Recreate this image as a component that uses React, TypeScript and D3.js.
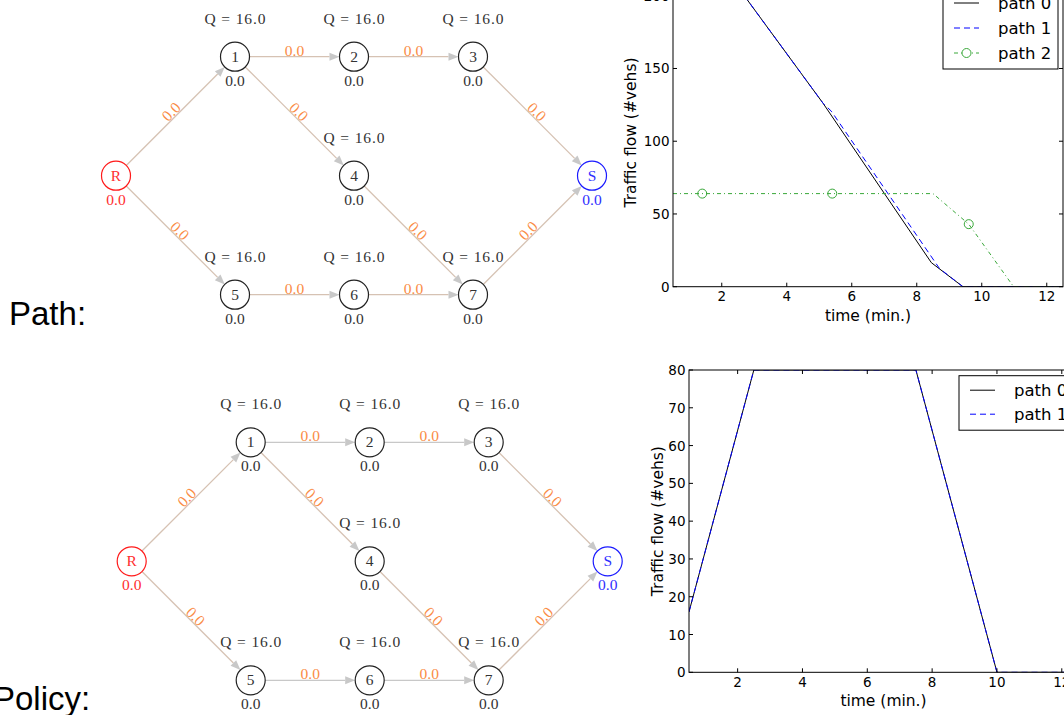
import * as d3 from 'd3';

// ---- network data ----
const nodeNames = ['R', '1', '2', '3', '4', '5', '6', '7', 'S'];
const nodeCol = [0, 1, 2, 3, 2, 1, 2, 3, 4];
const nodeRow = [1, 0, 0, 0, 1, 2, 2, 2, 1];
const nodeFlow = [0, 0, 0, 0, 0, 0, 0, 0, 0];
const nodeCapacity = [null, 16, 16, 16, 16, 16, 16, 16, null];
const edgeFrom = ['R', 'R', '1', '2', '1', '3', '4', '5', '6', '7'];
const edgeTo = ['1', '5', '2', '3', '4', 'S', '7', '6', '7', 'S'];
const edgeFlow = [0, 0, 0, 0, 0, 0, 0, 0, 0, 0];

// ---- path chart data ----
const pathTime0 = [0.5, 2.3, 5.12, 8.45, 9.42, 12.5];
const pathFlow0 = [212, 212, 126, 16.5, 0, 0];
const pathTime1 = [0.5, 2.3, 5.12, 5.37, 8.7, 9.42, 12.5];
const pathFlow1 = [212, 212, 126, 120.7, 12.5, 0, 0];
const pathTime2 = [0.5, 8.5, 9.6, 10.98, 12.5];
const pathFlow2 = [64, 64, 43, 0, 0];
const pathMarkTime2 = [1.4, 5.4, 9.6];
const pathMarkFlow2 = [64, 64, 43];
const pathYTicks = [0, 50, 100, 150, 200];

// ---- policy chart data ----
const policyTime0 = [0.5, 2.5, 7.5, 10, 12.5];
const policyFlow0 = [16, 80, 80, 0, 0];
const policyTime1 = [0.5, 2.5, 7.5, 10, 12.5];
const policyFlow1 = [16, 80, 80, 0, 0];
const policyYTicks = [0, 10, 20, 30, 40, 50, 60, 70, 80];

const xTicks = [2, 4, 6, 8, 10, 12];

const serif = '"Liberation Serif", "DejaVu Serif", serif';
const sans = '"DejaVu Sans", sans-serif';
const tan = '#d6c2b3';
const grey = '#c8c8c8';
const orange = '#fa8c46';

type NetProps = { x0: number; y0: number; greyHorizontal: boolean };

function Network({ x0, y0, greyHorizontal }: NetProps) {
  const step = 119;
  const r = 14.5;
  const xs = d3.scaleLinear().domain([0, 4]).range([x0, x0 + 4 * step]);
  const ys = d3.scaleLinear().domain([0, 2]).range([y0 - step, y0 + step]);
  const pos = (name: string) => {
    const i = nodeNames.indexOf(name);
    return [xs(nodeCol[i]), ys(nodeRow[i])];
  };
  const nodeColor = (n: string) => (n === 'R' ? '#ff1a1a' : n === 'S' ? '#1a1aff' : '#222');
  const textColor = (n: string) => (n === 'R' ? '#ff3030' : n === 'S' ? '#3030ff' : '#333');

  return (
    <g>
      {edgeFrom.map((f, i) => {
        const [sx, sy] = pos(f);
        const [tx, ty] = pos(edgeTo[i]);
        const len = Math.hypot(tx - sx, ty - sy);
        const ux = (tx - sx) / len;
        const uy = (ty - sy) / len;
        const ex = tx - ux * r;
        const ey = ty - uy * r;
        const bx = ex - ux * 10;
        const by = ey - uy * 10;
        const nx = -uy;
        const ny = ux;
        const horiz = sy === ty;
        const col = greyHorizontal && horiz ? grey : tan;
        let ang = (Math.atan2(ty - sy, tx - sx) * 180) / Math.PI;
        if (ang > 90) ang -= 180;
        if (ang < -90) ang += 180;
        const mx = (sx + tx) / 2;
        const my = (sy + ty) / 2;
        return (
          <g key={i}>
            <line x1={sx + ux * r} y1={sy + uy * r} x2={bx} y2={by} stroke={col} strokeWidth={1.3} />
            <polygon
              points={`${ex},${ey} ${bx + nx * 4},${by + ny * 4} ${bx - nx * 4},${by - ny * 4}`}
              fill={grey}
            />
            <text
              transform={`translate(${mx},${my}) rotate(${ang})`}
              y={-1}
              textAnchor="middle"
              fontFamily={serif}
              fontSize={15.5}
              fill={orange}
            >
              {edgeFlow[i].toFixed(1)}
            </text>
          </g>
        );
      })}
      {nodeNames.map((n, i) => {
        const cx = xs(nodeCol[i]);
        const cy = ys(nodeRow[i]);
        const cap = nodeCapacity[i];
        return (
          <g key={n}>
            <circle cx={cx} cy={cy} r={r} fill="#fff" stroke={nodeColor(n)} strokeWidth={1.2} />
            <text x={cx} y={cy + 5} textAnchor="middle" fontFamily={serif} fontSize={15.5} fill={textColor(n)}>
              {n}
            </text>
            <text x={cx} y={cy + 29} textAnchor="middle" fontFamily={serif} fontSize={15.5} fill={textColor(n)}>
              {nodeFlow[i].toFixed(1)}
            </text>
            {cap !== null && (
              <text
                x={cx}
                y={cy - 33}
                textAnchor="middle"
                fontFamily={serif}
                fontSize={15.5}
                fill="#333"
                textLength={61}
                lengthAdjust="spacing"
              >
                {`Q = ${cap.toFixed(1)}`}
              </text>
            )}
          </g>
        );
      })}
    </g>
  );
}

type Series = {
  t: number[];
  v: number[];
  color: string;
  dash?: string;
  label: string;
  markT?: number[];
  markV?: number[];
};

type ChartProps = {
  id: string;
  left: number;
  right: number;
  top: number;
  bottom: number;
  yMax: number;
  yTicks: number[];
  series: Series[];
  legendX: number;
  legendTop: number;
  rowH: number;
  yLabelX: number;
};

function FlowChart(p: ChartProps) {
  const x = d3.scaleLinear().domain([0.5, 12.5]).range([p.left, p.right]);
  const y = d3.scaleLinear().domain([0, p.yMax]).range([p.bottom, p.top]);
  const line = d3
    .line<[number, number]>()
    .x((d) => x(d[0]))
    .y((d) => y(d[1]));
  const legendH = 14.5 + (p.series.length - 1) * p.rowH + 16;

  return (
    <g fontFamily={sans}>
      <defs>
        <clipPath id={p.id}>
          <rect x={p.left} y={p.top} width={p.right - p.left} height={p.bottom - p.top} />
        </clipPath>
      </defs>
      <g clipPath={`url(#${p.id})`}>
        {p.series.map((s, i) => (
          <g key={i}>
            <path
              d={line(s.t.map((t, j) => [t, s.v[j]] as [number, number])) || ''}
              fill="none"
              stroke={s.color}
              strokeWidth={1}
              strokeDasharray={s.dash}
            />
            {s.markT &&
              s.markT.map((t, j) => (
                <circle key={j} cx={x(t)} cy={y(s.markV![j])} r={4.5} fill="none" stroke={s.color} strokeWidth={1} />
              ))}
          </g>
        ))}
      </g>
      <rect x={p.left} y={p.top} width={p.right - p.left} height={p.bottom - p.top} fill="none" stroke="#000" strokeWidth={1} />
      {xTicks.map((t) => (
        <g key={t}>
          <line x1={x(t)} x2={x(t)} y1={p.bottom} y2={p.bottom - 4} stroke="#000" />
          <line x1={x(t)} x2={x(t)} y1={p.top} y2={p.top + 4} stroke="#000" />
          <text x={x(t)} y={p.bottom + 14.5} textAnchor="middle" fontSize={13.5} fill="#000">
            {t}
          </text>
        </g>
      ))}
      {p.yTicks.map((t) => (
        <g key={t}>
          <line x1={p.left} x2={p.left + 4} y1={y(t)} y2={y(t)} stroke="#000" />
          <line x1={p.right} x2={p.right - 4} y1={y(t)} y2={y(t)} stroke="#000" />
          <text x={p.left - 3.5} y={y(t) + 5} textAnchor="end" fontSize={13.5} fill="#000">
            {t}
          </text>
        </g>
      ))}
      <text
        transform={`translate(${p.yLabelX},${(p.top + p.bottom) / 2}) rotate(-90)`}
        y={5.5}
        textAnchor="middle"
        fontSize={15.5}
        fill="#000"
      >
        Traffic flow (#vehs)
      </text>
      <text x={(p.left + p.right) / 2} y={p.bottom + 34} textAnchor="middle" fontSize={15.5} fill="#000">
        time (min.)
      </text>
      <rect x={p.legendX} y={p.legendTop} width={115} height={legendH} fill="#fff" stroke="#000" strokeWidth={1} />
      {p.series.map((s, i) => {
        const cy = p.legendTop + 14.5 + i * p.rowH;
        return (
          <g key={i}>
            <line x1={p.legendX + 11} x2={p.legendX + 36} y1={cy} y2={cy} stroke={s.color} strokeDasharray={s.dash} />
            {s.markT && <circle cx={p.legendX + 23.5} cy={cy} r={4.5} fill="#fff" stroke={s.color} />}
            <text x={p.legendX + 55} y={cy + 6} fontSize={16.5} fill="#000">
              {s.label}
            </text>
          </g>
        );
      })}
    </g>
  );
}

export default function App() {
  const pathSeries: Series[] = [
    { t: pathTime0, v: pathFlow0, color: '#000', label: 'path 0' },
    { t: pathTime1, v: pathFlow1, color: '#0000ff', dash: '6,4', label: 'path 1' },
    {
      t: pathTime2,
      v: pathFlow2,
      color: '#3aa83a',
      dash: '4,3,1,3',
      label: 'path 2',
      markT: pathMarkTime2,
      markV: pathMarkFlow2,
    },
  ];
  const policySeries: Series[] = [
    { t: policyTime0, v: policyFlow0, color: '#000', label: 'path 0' },
    { t: policyTime1, v: policyFlow1, color: '#0000ff', dash: '6,4', label: 'path 1' },
  ];

  return (
    <svg
      width={1064}
      height={715}
      style={{ position: 'absolute', left: 0, top: 0, display: 'block', background: '#fff' }}
    >
      <rect x={0} y={0} width={1064} height={715} fill="#fff" />
      <Network x0={116} y0={175.7} greyHorizontal={false} />
      <Network x0={131.7} y0={561.3} greyHorizontal={true} />
      <text x={9} y={325} fontFamily='"Liberation Sans", Arial, sans-serif' fontSize={33} fill="#000">
        Path:
      </text>
      <text x={-7} y={710} fontFamily='"Liberation Sans", Arial, sans-serif' fontSize={33} fill="#000">
        Policy:
      </text>
      <FlowChart
        id="clip-path-chart"
        left={673}
        right={1063}
        top={-21.7}
        bottom={286.7}
        yMax={212}
        yTicks={pathYTicks}
        series={pathSeries}
        legendX={943}
        legendTop={-11.5}
        rowH={25}
        yLabelX={630.7}
      />
      <FlowChart
        id="clip-policy-chart"
        left={689}
        right={1078}
        top={370}
        bottom={672.3}
        yMax={80}
        yTicks={policyYTicks}
        series={policySeries}
        legendX={959}
        legendTop={375.7}
        rowH={24}
        yLabelX={657}
      />
    </svg>
  );
}
